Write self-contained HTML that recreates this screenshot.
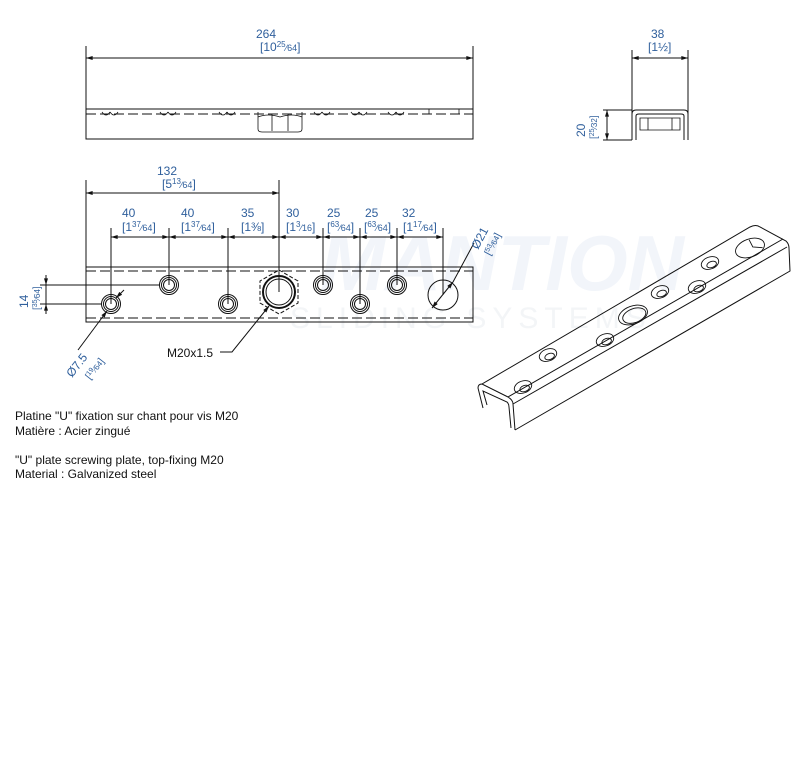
<!DOCTYPE html>
<html><head><meta charset="utf-8"><style>
html,body{margin:0;padding:0;background:#fff;}
svg{display:block;}
.d{font-family:"Liberation Sans",sans-serif;fill:#2f5f9c;}
.t{font-family:"Liberation Sans",sans-serif;fill:#111;font-size:12px;}
</style></head><body>
<svg width="800" height="777" viewBox="0 0 800 777" xmlns="http://www.w3.org/2000/svg">
<defs>
<marker id="a" viewBox="0 0 10 6" refX="10" refY="3" markerWidth="8" markerHeight="4" orient="auto-start-reverse"><path d="M0,0 L10,3 L0,6 z" fill="#111"/></marker>
</defs>
<text x="320" y="290" font-family="Liberation Sans,sans-serif" font-size="78" font-weight="bold" font-style="italic" fill="#f2f5fa">MANTION</text>
<text x="290" y="328" font-family="Liberation Sans,sans-serif" font-size="30" letter-spacing="6" fill="#f3f5f7">SLIDING SYSTEMS</text>

<g stroke="#111" stroke-width="1" fill="none">
<line x1="86" y1="46" x2="86" y2="139"/><line x1="473" y1="46" x2="473" y2="139"/>
<line x1="86" y1="58" x2="473" y2="58" marker-start="url(#a)" marker-end="url(#a)"/>
<rect x="86" y="109" width="387" height="30"/>
<line x1="86" y1="114" x2="473" y2="114" stroke-dasharray="10,4"/>
<g stroke-width="0.8">
<path d="M102,112 q4,6 8,0 M110,112 q4,6 8,0 M160,112 q4,6 8,0 M168,112 q4,6 8,0 M219,112 q4,6 8,0 M227,112 q4,6 8,0 M314,112 q4,6 8,0 M322,112 q4,6 8,0 M351,112 q4,6 8,0 M359,112 q4,6 8,0 M388,112 q4,6 8,0 M396,112 q4,6 8,0"/>
<line x1="429" y1="109" x2="429" y2="114"/><line x1="459" y1="109" x2="459" y2="114"/>
<path d="M258,112 v17 q0,3 4,3 h36 q4,0 4,-3 v-17 M272,114 v17 M288,114 v17 M258,117 q10,-4 22,0 q12,-4 22,0"/>
</g>
<line x1="632" y1="50" x2="632" y2="140"/><line x1="688" y1="50" x2="688" y2="140"/>
<line x1="632" y1="58" x2="688" y2="58" marker-start="url(#a)" marker-end="url(#a)"/>
<line x1="603" y1="110" x2="632" y2="110"/><line x1="603" y1="140" x2="632" y2="140"/>
<line x1="607" y1="110" x2="607" y2="140" marker-start="url(#a)" marker-end="url(#a)"/>
<path d="M632,140 V114 q0,-4 4,-4 h48 q4,0 4,4 V140 M636,140 V116 q0,-2 3,-2 h42 q3,0 3,2 V140"/>
<path d="M640,118 h40 v12 h-40 z M648,118 v12 M672,118 v12" stroke-width="0.8"/>
<rect x="86" y="267" width="387" height="55"/>
<line x1="86" y1="271" x2="473" y2="271" stroke-dasharray="10,4"/>
<line x1="86" y1="318" x2="473" y2="318" stroke-dasharray="10,4"/>
<g>
<circle cx="111" cy="304" r="9.5"/><circle cx="111" cy="304" r="7.5"/><circle cx="111" cy="304" r="5.5"/>
<circle cx="169" cy="285" r="9.5"/><circle cx="169" cy="285" r="7.5"/><circle cx="169" cy="285" r="5.5"/>
<circle cx="228" cy="304" r="9.5"/><circle cx="228" cy="304" r="7.5"/><circle cx="228" cy="304" r="5.5"/>
<circle cx="323" cy="285" r="9.5"/><circle cx="323" cy="285" r="7.5"/><circle cx="323" cy="285" r="5.5"/>
<circle cx="360" cy="304" r="9.5"/><circle cx="360" cy="304" r="7.5"/><circle cx="360" cy="304" r="5.5"/>
<circle cx="397" cy="285" r="9.5"/><circle cx="397" cy="285" r="7.5"/><circle cx="397" cy="285" r="5.5"/>
<circle cx="279" cy="292" r="16" stroke-width="2"/><circle cx="279" cy="292" r="13"/>
<polygon points="279,270 298,281 298,303 279,314 260,303 260,281" stroke-dasharray="4,2"/>
<circle cx="443" cy="295" r="15"/>
</g>
<line x1="86" y1="180" x2="86" y2="267"/><line x1="279" y1="180" x2="279" y2="292"/>
<line x1="86" y1="193" x2="279" y2="193" marker-start="url(#a)" marker-end="url(#a)"/>
<line x1="111" y1="228" x2="111" y2="304"/><line x1="169" y1="228" x2="169" y2="285"/>
<line x1="228" y1="228" x2="228" y2="304"/><line x1="323" y1="228" x2="323" y2="285"/>
<line x1="360" y1="228" x2="360" y2="304"/><line x1="397" y1="228" x2="397" y2="285"/>
<line x1="443" y1="228" x2="443" y2="295"/>
<line x1="111" y1="237" x2="169" y2="237" marker-start="url(#a)" marker-end="url(#a)"/>
<line x1="169" y1="237" x2="228" y2="237" marker-start="url(#a)" marker-end="url(#a)"/>
<line x1="228" y1="237" x2="279" y2="237" marker-start="url(#a)" marker-end="url(#a)"/>
<line x1="279" y1="237" x2="323" y2="237" marker-start="url(#a)" marker-end="url(#a)"/>
<line x1="323" y1="237" x2="360" y2="237" marker-start="url(#a)" marker-end="url(#a)"/>
<line x1="360" y1="237" x2="397" y2="237" marker-start="url(#a)" marker-end="url(#a)"/>
<line x1="397" y1="237" x2="443" y2="237" marker-start="url(#a)" marker-end="url(#a)"/>
<line x1="40" y1="285" x2="160" y2="285"/><line x1="40" y1="304" x2="102" y2="304"/>
<line x1="46" y1="285" x2="46" y2="304"/>
<line x1="46" y1="275" x2="46" y2="285" marker-end="url(#a)"/><line x1="46" y1="314" x2="46" y2="304" marker-end="url(#a)"/>
<line x1="78" y1="350" x2="107" y2="311" marker-end="url(#a)"/>
<line x1="124" y1="290" x2="116" y2="298" marker-end="url(#a)"/>
<polyline points="220,352 232,352 269,306" marker-end="url(#a)"/>
<line x1="474" y1="243" x2="453" y2="282"/>
<line x1="453" y1="282" x2="432" y2="308" marker-start="url(#a)" marker-end="url(#a)"/>
<path d="M483,408 L478,388 Q478,384 482,384 L508,397 Q513,400 513,404 L515,430"/>
<path d="M487,405 L483,391 L507,402 Q509,404 509,407 L511,428"/>
<path d="M482,384 L750,227 Q756,224 760,227 L786,241 Q789,244 789,248 L790,271 L515,430"/>
<path d="M508,397 L783,239 M513,404 L787,247"/>
</g>
<g stroke="#111" stroke-width="0.9" fill="none">
<g transform="translate(523,387) rotate(-20)"><ellipse rx="9" ry="6"/><ellipse cx="1" cy="2" rx="5" ry="3"/></g>
<g transform="translate(548,355) rotate(-20)"><ellipse rx="9" ry="6"/><ellipse cx="1" cy="2" rx="5" ry="3"/></g>
<g transform="translate(605,340) rotate(-20)"><ellipse rx="9" ry="6"/><ellipse cx="1" cy="2" rx="5" ry="3"/></g>
<g transform="translate(633,315) rotate(-20)"><ellipse rx="15" ry="9"/><ellipse cx="1" cy="1" rx="12" ry="7"/></g>
<g transform="translate(660,292) rotate(-20)"><ellipse rx="9" ry="6"/><ellipse cx="1" cy="2" rx="5" ry="3"/></g>
<g transform="translate(697,287) rotate(-20)"><ellipse rx="9" ry="6"/><ellipse cx="1" cy="2" rx="5" ry="3"/></g>
<g transform="translate(710,263) rotate(-20)"><ellipse rx="9" ry="6"/><ellipse cx="1" cy="2" rx="5" ry="3"/></g>
<g transform="translate(750,248) rotate(-20)"><ellipse rx="15" ry="9"/><path d="M2,-8 L3,0 L12,4"/></g>
</g>

<g class="d" font-size="12">
<text x="256" y="38">264</text><text x="260" y="51">[10<tspan font-size="8" dy="-4">25</tspan><tspan font-size="9" dy="4">⁄64</tspan>]</text>
<text x="651" y="38">38</text><text x="648" y="51">[1½]</text>
<text x="157" y="175">132</text><text x="162" y="188">[5<tspan font-size="8" dy="-4">13</tspan><tspan font-size="9" dy="4">⁄64</tspan>]</text>
<text x="122" y="217">40</text><text x="122" y="231">[1<tspan font-size="8" dy="-4">37</tspan><tspan font-size="9" dy="4">⁄64</tspan>]</text>
<text x="181" y="217">40</text><text x="181" y="231">[1<tspan font-size="8" dy="-4">37</tspan><tspan font-size="9" dy="4">⁄64</tspan>]</text>
<text x="241" y="217">35</text><text x="241" y="231">[1⅜]</text>
<text x="286" y="217">30</text><text x="286" y="231">[1<tspan font-size="8" dy="-4">3</tspan><tspan font-size="9" dy="4">⁄16</tspan>]</text>
<text x="327" y="217">25</text><text x="327" y="231">[<tspan font-size="8" dy="-4">63</tspan><tspan font-size="9" dy="4">⁄64</tspan>]</text>
<text x="365" y="217">25</text><text x="364" y="231">[<tspan font-size="8" dy="-4">63</tspan><tspan font-size="9" dy="4">⁄64</tspan>]</text>
<text x="402" y="217">32</text><text x="403" y="231">[1<tspan font-size="8" dy="-4">17</tspan><tspan font-size="9" dy="4">⁄64</tspan>]</text>
<text transform="translate(478,250) rotate(-62)">Ø21</text>
<text transform="translate(490,256) rotate(-62)" font-size="10">[<tspan font-size="7" dy="-3">53</tspan><tspan font-size="8" dy="3">⁄64</tspan>]</text>
<text transform="translate(28,308) rotate(-90)">14</text>
<text transform="translate(40,310) rotate(-90)" font-size="10">[<tspan font-size="7" dy="-3">35</tspan><tspan font-size="8" dy="3">⁄64</tspan>]</text>
<text transform="translate(585,137) rotate(-90)">20</text>
<text transform="translate(597,139) rotate(-90)" font-size="10">[<tspan font-size="7" dy="-3">25</tspan><tspan font-size="8" dy="3">⁄32</tspan>]</text>
<text transform="translate(72,378) rotate(-52)">Ø7.5</text>
<text transform="translate(90,380) rotate(-52)" font-size="10">[<tspan font-size="7" dy="-3">19</tspan><tspan font-size="8" dy="3">⁄64</tspan>]</text>
</g>
<text x="167" y="357" class="t">M20x1.5</text>

<text x="15" y="420" class="t">Platine "U" fixation sur chant pour vis  M20</text>
<text x="15" y="435" class="t">Matière : Acier zingué</text>
<text x="15" y="464" class="t">"U" plate screwing plate, top-fixing M20</text>
<text x="15" y="478" class="t">Material : Galvanized steel</text>
</svg>
</body></html>
